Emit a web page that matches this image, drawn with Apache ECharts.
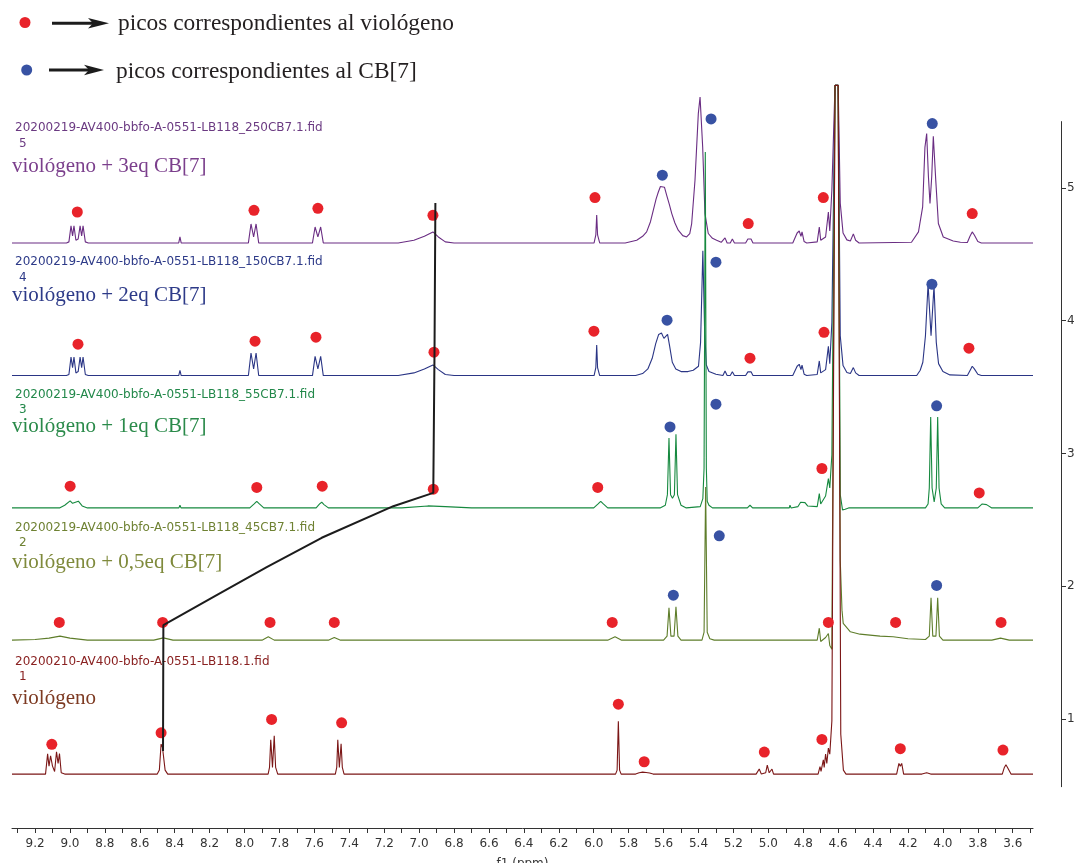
<!DOCTYPE html>
<html><head><meta charset="utf-8">
<script src="https://cdn.jsdelivr.net/npm/echarts@6/dist/echarts.min.js"></script>
<style>html,body{margin:0;padding:0;background:#fff}#c{width:1076px;height:863px}</style>
</head><body><div id="c"></div>
<script>
// ---- axis ticks ----
const xTickValues = [9.3,9.2,9.1,9.0,8.9,8.8,8.7,8.6,8.5,8.4,8.3,8.2,8.1,8.0,7.9,7.8,7.7,7.6,7.5,7.4,7.3,7.2,7.1,7.0,6.9,6.8,6.7,6.6,6.5,6.4,6.3,6.2,6.1,6.0,5.9,5.8,5.7,5.6,5.5,5.4,5.3,5.2,5.1,5.0,4.9,4.8,4.7,4.6,4.5,4.4,4.3,4.2,4.1,4.0,3.9,3.8,3.7,3.6,3.5];
const xTickLabels = [9.2,9.0,8.8,8.6,8.4,8.2,8.0,7.8,7.6,7.4,7.2,7.0,6.8,6.6,6.4,6.2,6.0,5.8,5.6,5.4,5.2,5.0,4.8,4.6,4.4,4.2,4.0,3.8,3.6];
const yTickLabels = [1,2,3,4,5];

// ---- stacked spectra: vertical offset (baseline) of each trace ----
const baselines = [0.585, 1.594, 2.590, 3.587, 4.586];

// spectrum 1 : viológeno  [ppm, intensity above baseline]
const spec1 = [[9.332,0],[9.14,0],[9.128,0.152],[9.12,0.06],[9.111,0.138],[9.10,0.06],[9.088,0.02],[9.077,0.168],[9.068,0.08],[9.060,0.155],[9.05,0.01],[9.03,0],
[8.50,0],[8.488,0.03],[8.478,0.226],[8.470,0.20],[8.464,0.198],[8.455,0.03],[8.44,0],
[7.865,0],[7.857,0.05],[7.850,0.258],[7.840,0.05],[7.830,0.288],[7.822,0.05],[7.81,0],
[7.48,0],[7.472,0.05],[7.466,0.258],[7.457,0.05],[7.447,0.228],[7.44,0.05],[7.43,0],
[5.875,0],[5.866,0.03],[5.859,0.397],[5.852,0.03],[5.843,0],
[5.76,0],[5.74,0.01],[5.72,0.015],[5.70,0.012],[5.68,0.008],[5.66,0],
[5.07,0],[5.052,0.038],[5.04,0],[5.015,0.01],[5.006,0.068],[4.995,0.01],[4.985,0.01],[4.979,0.038],[4.97,0],
[4.715,0],[4.704,0.057],[4.698,0.02],[4.685,0.108],[4.68,0.05],[4.672,0.151],[4.665,0.08],[4.656,0.196],[4.648,0.15],[4.636,0.4],[4.618,5.188],[4.600,5.188],[4.585,0.3],[4.57,0.03],[4.555,0],
[4.51,0],[4.504,0.015],[4.498,0],
[4.265,0],[4.252,0.08],[4.244,0.06],[4.236,0.08],[4.225,0],
[4.12,0],[4.093,0.01],[4.07,0],
[3.66,0],[3.648,0.05],[3.639,0.07],[3.63,0.05],[3.61,0],[3.484,0]];

// spectrum 2 : viológeno + 0,5eq CB[7]
const spec2 = [[9.332,0],[9.2,0.005],[9.12,0.015],[9.057,0.03],[9.0,0.015],[8.9,0],
[8.52,0],[8.465,0.017],[8.41,0],
[7.90,0],[7.864,0.025],[7.83,0],
[7.52,0],[7.486,0.02],[7.45,0],
[5.92,0],[5.878,0.025],[5.84,0],
[5.60,0],[5.58,0.03],[5.569,0.243],[5.558,0.03],[5.549,0.025],[5.54,0.03],[5.529,0.251],[5.518,0.03],[5.50,0],
[5.38,0],[5.368,0.06],[5.359,1.154],[5.35,0.06],[5.335,0.01],[5.31,0],
[4.72,0],[4.708,0.09],[4.700,-0.01],[4.672,0.02],[4.656,0.05],[4.648,-0.04],[4.636,-0.068],[4.618,4.179],[4.600,4.179],[4.588,0.6],[4.578,0.226],[4.571,0.126],[4.53,0.063],[4.475,0.045],[4.36,0.03],[4.285,0.025],[4.20,0.01],
[4.10,0.005],[4.078,0.03],[4.068,0.32],[4.058,0.03],[4.049,0.03],[4.04,0.03],[4.030,0.32],[4.02,0.03],[4.0,0],
[3.72,0],[3.67,0.015],[3.62,0],[3.484,0]];

// spectrum 3 : viológeno + 1eq CB[7]
const spec3 = [[9.332,0],[9.06,0],[9.03,0.02],[8.999,0.053],[8.985,0.035],[8.952,0.051],[8.93,0.015],[8.90,0],
[8.376,0],[8.370,0.02],[8.364,0],
[7.97,0],[7.945,0.03],[7.930,0.05],[7.915,0.03],[7.89,0],
[7.59,0],[7.57,0.03],[7.558,0.043],[7.545,0.025],[7.52,0],
[7.10,0],[6.95,0.015],[6.85,0.01],[6.70,0],
[6.0,0],[5.975,0.03],[5.960,0.05],[5.945,0.03],[5.92,0],
[5.62,0],[5.59,0.02],[5.578,0.1],[5.569,0.527],[5.56,0.1],[5.549,0.073],[5.538,0.1],[5.529,0.555],[5.52,0.1],[5.50,0.02],[5.47,0],
[5.39,0.01],[5.375,0.07],[5.368,0.3],[5.361,2.681],[5.355,0.3],[5.35,0.05],[5.34,0.02],[5.32,0],
[5.12,0],[5.105,0.02],[5.09,0],
[4.88,0],[4.876,0.02],[4.87,0],[4.83,0.01],[4.815,0.043],[4.79,0.04],[4.775,0.015],[4.72,0.01],[4.708,0.108],[4.70,0.03],[4.672,0.09],[4.656,0.221],[4.648,0.15],[4.636,0.4],[4.618,3.183],[4.600,3.183],[4.588,0.1],[4.575,-0.015],[4.56,-0.01],[4.54,0],
[4.10,0],[4.085,0.03],[4.078,0.15],[4.070,0.684],[4.062,0.15],[4.05,0.045],[4.038,0.15],[4.030,0.684],[4.022,0.15],[4.01,0.03],[3.99,0],
[3.80,0],[3.775,0.03],[3.75,0.025],[3.72,0],[3.484,0]];

// spectrum 4 : viológeno + 2eq CB[7]
const spec4 = [[9.332,0],[9.02,0],[9.006,0.008],[8.994,0.14],[8.985,0.06],[8.977,0.14],[8.966,0.02],[8.953,0.03],[8.942,0.14],[8.933,0.06],[8.925,0.14],[8.912,0.008],[8.895,0],
[8.377,0],[8.370,0.04],[8.363,0],
[7.978,0],[7.963,0.17],[7.948,0.05],[7.934,0.17],[7.919,0],
[7.611,0],[7.596,0.145],[7.580,0.05],[7.564,0.145],[7.549,0],
[7.12,0],[7.03,0.02],[6.97,0.05],[6.921,0.08],[6.89,0.045],[6.85,0.008],[6.80,0],
[5.998,0],[5.988,0.06],[5.983,0.23],[5.978,0.06],[5.966,0],
[5.76,0],[5.72,0.015],[5.69,0.05],[5.665,0.13],[5.645,0.24],[5.628,0.31],[5.612,0.32],[5.598,0.28],[5.588,0.27],[5.577,0.31],[5.565,0.22],[5.55,0.1],[5.53,0.05],[5.50,0.03],[5.46,0.03],[5.43,0.04],[5.40,0.07],[5.388,0.25],[5.375,0.94],[5.365,0.35],[5.355,0.08],[5.34,0.03],[5.30,0.01],
[5.26,0],[5.248,0.035],[5.236,0],[5.218,0],[5.206,0.028],[5.194,0],[5.13,0],[5.117,0.028],[5.108,0.018],[5.099,0.028],[5.088,0],
[4.86,0],[4.835,0.07],[4.823,0.085],[4.813,0.045],[4.807,0.078],[4.795,0.01],[4.78,0],
[4.72,0.008],[4.708,0.11],[4.70,0.02],[4.672,0.045],[4.656,0.22],[4.648,0.09],[4.636,0.4],[4.618,2.186],[4.600,2.186],[4.588,0.3],[4.572,0.075],[4.55,0.023],[4.53,0.015],[4.513,0.06],[4.50,0.02],[4.48,0],
[4.15,0],[4.13,0.04],[4.115,0.1],[4.100,0.3],[4.085,0.689],[4.068,0.3],[4.051,0.675],[4.038,0.25],[4.025,0.09],[4.00,0.03],[3.96,0.005],
[3.86,0],[3.84,0.05],[3.832,0.07],[3.82,0.05],[3.80,0.01],[3.78,0],[3.484,0]];

// spectrum 5 : viológeno + 3eq CB[7]
const spec5 = [[9.332,0],[9.02,0],[9.006,0.008],[8.994,0.128],[8.985,0.053],[8.977,0.128],[8.966,0.02],[8.953,0.03],[8.942,0.128],[8.933,0.053],[8.925,0.128],[8.912,0.008],[8.895,0],
[8.377,0],[8.370,0.045],[8.363,0],
[7.978,0],[7.963,0.143],[7.948,0.045],[7.934,0.143],[7.919,0],
[7.611,0],[7.596,0.12],[7.580,0.045],[7.564,0.12],[7.549,0],
[7.12,0],[7.03,0.02],[6.97,0.05],[6.921,0.083],[6.89,0.045],[6.85,0.008],[6.80,0],
[5.998,0],[5.988,0.06],[5.983,0.211],[5.978,0.06],[5.966,0],
[5.82,0],[5.754,0.02],[5.72,0.05],[5.697,0.083],[5.675,0.16],[5.659,0.246],[5.643,0.33],[5.630,0.384],[5.618,0.425],[5.607,0.44],[5.595,0.42],[5.582,0.359],[5.567,0.29],[5.553,0.221],[5.535,0.15],[5.516,0.096],[5.49,0.055],[5.468,0.045],[5.45,0.07],[5.439,0.146],[5.420,0.472],[5.401,0.974],[5.391,1.099],[5.376,0.723],[5.363,0.221],[5.344,0.071],[5.32,0.035],[5.296,0.02],[5.27,0.005],
[5.26,0],[5.248,0.038],[5.236,0],[5.218,0],[5.206,0.03],[5.194,0],[5.13,0],[5.117,0.03],[5.108,0.02],[5.099,0.03],[5.088,0],
[4.86,0],[4.835,0.075],[4.823,0.09],[4.813,0.05],[4.807,0.083],[4.795,0.01],[4.78,0],
[4.72,0.008],[4.708,0.12],[4.70,0.02],[4.672,0.045],[4.656,0.233],[4.648,0.09],[4.636,0.4],[4.618,1.187],[4.600,1.187],[4.588,0.3],[4.572,0.075],[4.55,0.023],[4.53,0.015],[4.513,0.068],[4.50,0.02],[4.48,0],
[4.18,0.005],[4.14,0.083],[4.116,0.271],[4.103,0.72],[4.093,0.824],[4.083,0.5],[4.074,0.297],[4.064,0.5],[4.055,0.803],[4.041,0.473],[4.026,0.146],[3.998,0.045],[3.941,0.015],[3.90,0.005],
[3.86,0.003],[3.845,0.05],[3.832,0.083],[3.82,0.06],[3.80,0.01],[3.78,0],[3.484,0]];

// peak markers [ppm, y]
const redPeaks = [
[9.104,0.809],[8.478,0.896],[7.845,0.997],[7.444,0.971],[5.859,1.112],[5.711,0.678],[5.023,0.751],[4.693,0.846],[4.244,0.776],[3.656,0.766],
[9.061,1.727],[8.469,1.727],[7.854,1.727],[7.486,1.727],[5.894,1.727],[4.656,1.727],[4.271,1.727],[3.667,1.727],
[8.999,2.754],[7.930,2.744],[7.555,2.754],[6.919,2.731],[5.977,2.744],[4.693,2.887],[3.792,2.703],
[8.954,3.823],[7.940,3.846],[7.591,3.876],[6.915,3.763],[5.999,3.921],[5.105,3.718],[4.681,3.913],[3.851,3.793],
[8.958,4.819],[7.946,4.832],[7.580,4.847],[6.921,4.794],[5.993,4.928],[5.115,4.732],[4.685,4.928],[3.832,4.807]];
const bluePeaks = [
[5.544,1.933],[5.281,2.380],[4.036,2.006],
[5.563,3.200],[5.300,3.371],[4.036,3.359],
[5.580,4.004],[5.300,4.441],[4.063,4.275],
[5.607,5.096],[5.328,5.520],[4.061,5.485]];

// shift-tracking line
const trackLine = [[8.467,0.758],[8.465,1.707],[8.170,1.926],[7.873,2.144],[7.558,2.365],[7.148,2.603],[6.919,2.703],[6.912,3.763],[6.907,4.887]];

const specNames = ['viológeno','viológeno + 0,5eq CB[7]','viológeno + 1eq CB[7]','viológeno + 2eq CB[7]','viológeno + 3eq CB[7]'];
const fileNames = ['20200210-AV400-bbfo-A-0551-LB118.1.fid','20200219-AV400-bbfo-A-0551-LB118_45CB7.1.fid','20200219-AV400-bbfo-A-0551-LB118_55CB7.1.fid','20200219-AV400-bbfo-A-0551-LB118_150CB7.1.fid','20200219-AV400-bbfo-A-0551-LB118_250CB7.1.fid'];
const specs = [spec1, spec2, spec3, spec4, spec5];
const lineColors = ['#7b1616','#5e7d2a','#16893f','#2a3585','#6a2d83'];
const fileColors = ['#8a2222','#6f8233','#22884a','#2d3a88','#6b3a82'];
const nameColors = ['#7d3a22','#7f8a3c','#2a8a4a','#2d3a88','#7b3f8c'];
const labelY = [[662,677,698],[528,543,562],[395,410,426],[262,278,295],[128,144,166]];

const chart = echarts.init(document.getElementById('c'), null, {renderer:'canvas'});

const series = [];
for (let i = 4; i >= 0; i--) {
  series.push({
    type:'line', name:specNames[i], clip:false, symbol:'none', smooth:false,
    lineStyle:{color:lineColors[i], width:1.1}, z:2+ (4-i),
    data: specs[i].map(p => [p[0], baselines[i] + p[1]])
  });
}
series.push({type:'scatter', name:'picos correspondientes al viológeno', clip:false, symbolSize:11, itemStyle:{color:'#e8232a', opacity:1}, z:10, data:redPeaks});
series.push({type:'scatter', name:'picos correspondientes al CB[7]', clip:false, symbolSize:11, itemStyle:{color:'#3852a3', opacity:1}, z:10, data:bluePeaks});
series.push({type:'line', clip:false, symbol:'none', lineStyle:{color:'#1c1c1c', width:2}, z:12, data:trackLine});

const graphic = [];
for (let i = 0; i < 5; i++) {
  graphic.push({type:'text', x:15, y:labelY[i][0], style:{text:fileNames[i], font:'12px "DejaVu Sans"', fill:fileColors[i], verticalAlign:'middle', textVerticalAlign:'middle'}});
  graphic.push({type:'text', x:19, y:labelY[i][1], style:{text:String(i+1), font:'12px "DejaVu Sans"', fill:fileColors[i], verticalAlign:'middle', textVerticalAlign:'middle'}});
  graphic.push({type:'text', x:12, y:labelY[i][2], style:{text:specNames[i], font:'21px "Liberation Serif"', fill:nameColors[i], verticalAlign:'middle', textVerticalAlign:'middle'}});
}
// legend
graphic.push({type:'circle', shape:{cx:25, cy:22.5, r:5.5}, style:{fill:'#e8232a'}});
graphic.push({type:'line', shape:{x1:52, y1:23.3, x2:96, y2:23.3}, style:{stroke:'#1c1c1c', lineWidth:3}});
graphic.push({type:'polygon', shape:{points:[[88,18],[109,23.3],[88,28.6],[93,23.3]]}, style:{fill:'#1c1c1c'}});
graphic.push({type:'text', x:118, y:24, style:{text:'picos correspondientes al viológeno', font:'23.4px "Liberation Serif"', fill:'#231f20', verticalAlign:'middle', textVerticalAlign:'middle'}});
graphic.push({type:'circle', shape:{cx:26.7, cy:70, r:5.5}, style:{fill:'#3852a3'}});
graphic.push({type:'line', shape:{x1:49, y1:70, x2:92, y2:70}, style:{stroke:'#1c1c1c', lineWidth:3}});
graphic.push({type:'polygon', shape:{points:[[84,64.8],[104,70],[84,75.2],[89,70]]}, style:{fill:'#1c1c1c'}});
graphic.push({type:'text', x:116, y:71.5, style:{text:'picos correspondientes al CB[7]', font:'23.4px "Liberation Serif"', fill:'#231f20', verticalAlign:'middle', textVerticalAlign:'middle'}});

chart.setOption({
  animation:false,
  backgroundColor:'#fff',
  grid:{left:12, right:43, top:121.6, bottom:76.3, containLabel:false, outerBoundsMode:'none'},
  xAxis:{type:'value', inverse:true, min:3.484, max:9.332, position:'bottom', offset:41.3,
    name:'f1 (ppm)', nameLocation:'middle', nameGap:30, nameTextStyle:{fontFamily:'DejaVu Sans', fontSize:12, color:'#333'},
    axisLine:{show:true, onZero:false, lineStyle:{color:'#333', width:1}},
    axisTick:{show:true, inside:false, length:5, customValues:xTickValues, lineStyle:{color:'#333'}},
    axisLabel:{show:true, customValues:xTickLabels, margin:10, fontFamily:'DejaVu Sans', fontSize:12, color:'#333', formatter:v => Number(v).toFixed(1)},
    splitLine:{show:false}},
  yAxis:{type:'value', position:'right', offset:28, min:0.49, max:5.5,
    axisLine:{show:true, onZero:false, lineStyle:{color:'#333', width:1}},
    axisTick:{show:true, inside:false, length:5, customValues:yTickLabels, lineStyle:{color:'#333'}},
    axisLabel:{show:true, customValues:yTickLabels, margin:6, fontFamily:'DejaVu Sans', fontSize:12, color:'#333'},
    splitLine:{show:false}},
  graphic: graphic,
  series: series
});
</script></body></html>
